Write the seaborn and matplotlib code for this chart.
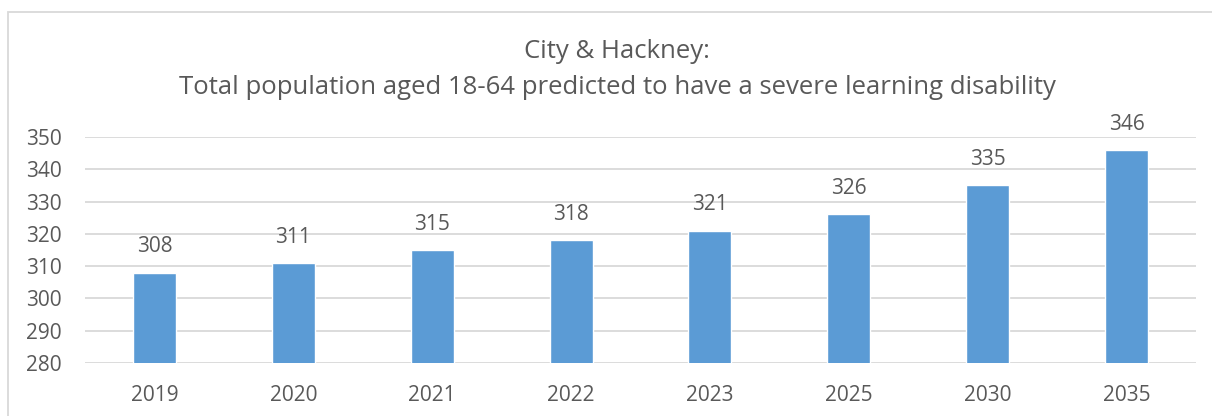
import matplotlib
matplotlib.use("Agg")
import matplotlib.pyplot as plt
from matplotlib.patches import Rectangle
import seaborn as sns
import pandas as pd

years = ["2019", "2020", "2021", "2022", "2023", "2025", "2030", "2035"]
population = [308, 311, 315, 318, 321, 326, 335, 346]
y_ticks = [280, 290, 300, 310, 320, 330, 340, 350]
title_lines = ["City & Hackney:",
               "Total population aged 18-64 predicted to have a severe learning disability"]

BAR = "#5B9BD5"
TEXT = "#595959"
GRID = "#D9D9D9"

sns.set_theme(style="white")
plt.rcParams["font.family"] = ["Open Sans", "DejaVu Sans"]

W, H = 1212, 416
fig = plt.figure(figsize=(W / 100, H / 100), dpi=100)
fig.patch.set_facecolor("white")

# chart frame (open to the right and bottom)
fig.patches.append(Rectangle((8 / W, -0.1), 1.2, (H - 12) / H + 0.1,
                             transform=fig.transFigure, fill=False,
                             edgecolor=GRID, linewidth=1.3))

ax = fig.add_axes([85 / W, 1 - 363 / H, (1196 - 85) / W, (363 - 137) / H])
df = pd.DataFrame({"year": years, "population": population})
sns.barplot(data=df, x="year", y="population", color=BAR, saturation=1,
            width=0.31, ax=ax, zorder=3)

ax.set_ylim(280, 350)
ax.set_yticks(y_ticks)
ax.set_xlim(-0.5, len(years) - 0.5)
ax.set_xlabel("")
ax.set_ylabel("")
ax.yaxis.grid(True, color=GRID, linewidth=1.3, zorder=0)
ax.set_axisbelow(True)
for s in ax.spines.values():
    s.set_visible(False)
ax.tick_params(axis="both", length=0, labelsize=15, labelcolor=TEXT)
ax.tick_params(axis="x", pad=16)
ax.tick_params(axis="y", pad=16.5)

for i, v in enumerate(population):
    ax.annotate(str(v), (i, v), xytext=(0, 11), textcoords="offset points",
                ha="center", va="bottom", fontsize=15, color=TEXT)

fig.text(617 / W, 1 - 51 / H, title_lines[0], ha="center", va="center",
         fontsize=18.5, color=TEXT)
fig.text(617 / W, 1 - 87 / H, title_lines[1], ha="center", va="center",
         fontsize=18.5, color=TEXT)

fig.savefig("out.png", dpi=100, facecolor="white")
